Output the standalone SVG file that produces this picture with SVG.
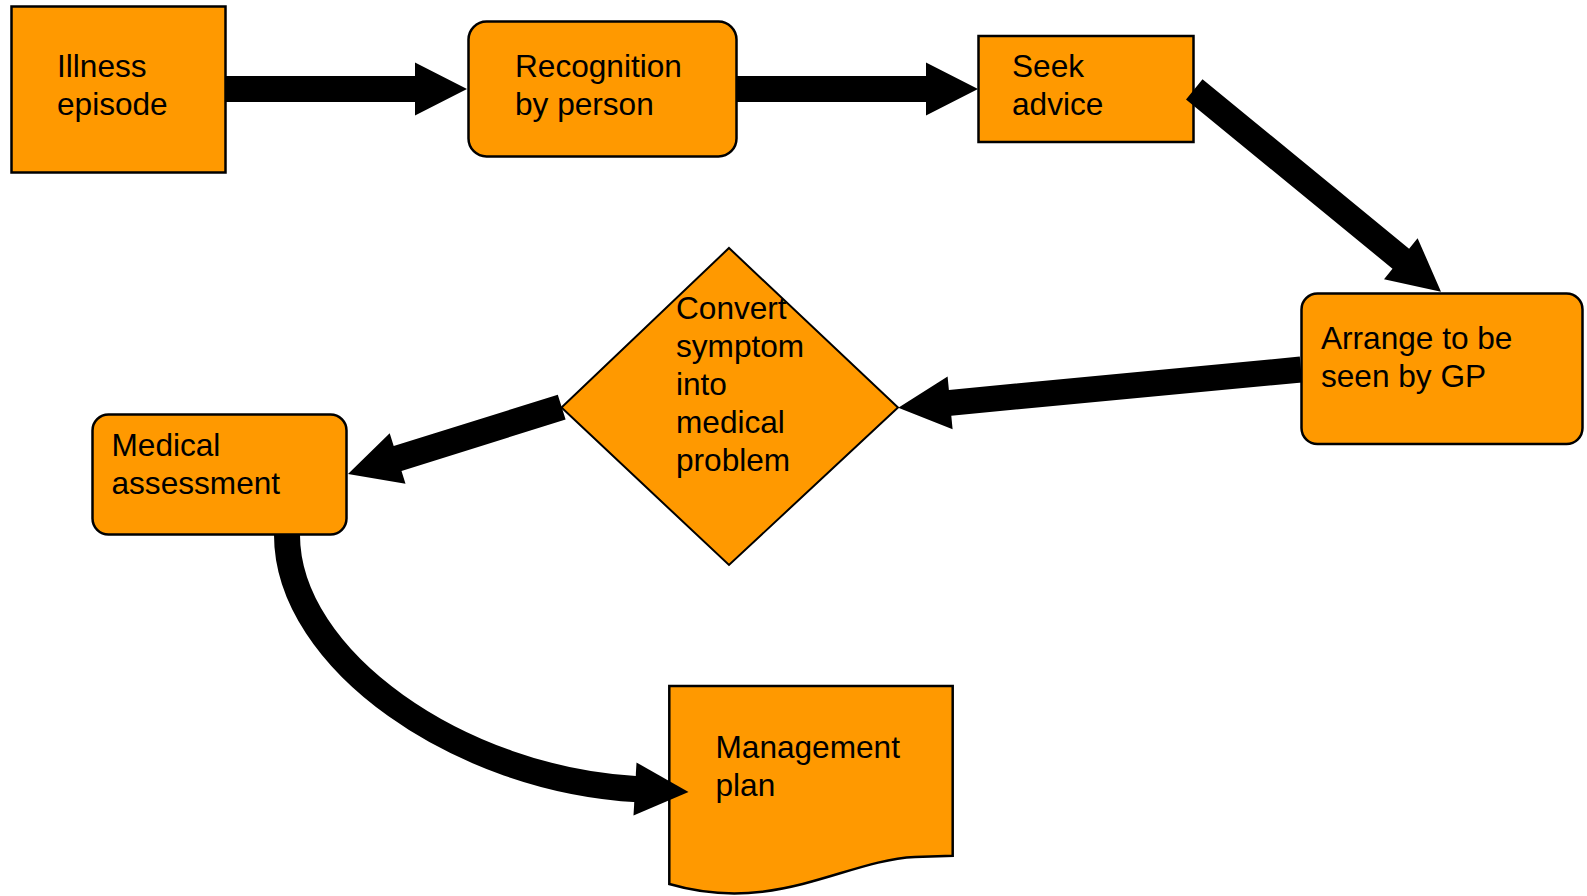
<svg xmlns="http://www.w3.org/2000/svg" width="1587" height="896" viewBox="0 0 1587 896">
<style>
.box{fill:#FF9900;stroke:#000;stroke-width:2.5}
.dia{fill:#FF9900;stroke:#000;stroke-width:2}
.lbl{font-family:"Liberation Sans",Arial,sans-serif;font-size:31.6px;fill:#000}
.arr{fill:#000;stroke:none}
.curve{fill:none;stroke:#000;stroke-width:26}
</style>
<rect width="1587" height="896" fill="#fff"/>
<g id="illness">
<rect class="box" x="11.5" y="6.5" width="214" height="166"/>
<text class="lbl" x="57" y="77.3">Illness</text>
<text class="lbl" x="57" y="115.3">episode</text>
</g>
<g id="recognition">
<rect class="box" x="468.5" y="21.5" width="268" height="135" rx="18"/>
<text class="lbl" x="515" y="77.3">Recognition</text>
<text class="lbl" x="515" y="115.3">by person</text>
</g>
<g id="seek">
<rect class="box" x="978.5" y="36" width="215" height="106"/>
<text class="lbl" x="1012" y="77.3">Seek</text>
<text class="lbl" x="1012" y="115.3">advice</text>
</g>
<g id="arrange">
<rect class="box" x="1301.5" y="293.5" width="281" height="150.5" rx="16"/>
<text class="lbl" x="1321" y="349.3">Arrange to be</text>
<text class="lbl" x="1321" y="387.3">seen by GP</text>
</g>
<g id="convert">
<polygon class="dia" points="729,248 898,407.5 729,565 561.5,407.5"/>
<text class="lbl" x="676" y="319.3">Convert</text>
<text class="lbl" x="676" y="357.3">symptom</text>
<text class="lbl" x="676" y="395.3">into</text>
<text class="lbl" x="676" y="433.3">medical</text>
<text class="lbl" x="676" y="471.3">problem</text>
</g>
<g id="medical">
<rect class="box" x="92.5" y="414.5" width="254" height="120" rx="16"/>
<text class="lbl" x="111.5" y="456">Medical</text>
<text class="lbl" x="111.5" y="494">assessment</text>
</g>
<g id="management">
<path class="box" d="M669.3,686 H952.7 V855.7 L915,857 C845,860 775,915 669.3,884 Z"/>
<text class="lbl" x="715.5" y="757.7">Management</text>
<text class="lbl" x="715.5" y="795.7">plan</text>
</g>
<g id="connectors">
<polygon class="arr" points="226,76 415,76 415,62.5 467,89 415,115.5 415,102 226,102"/>
<polygon class="arr" points="737,76 926,76 926,62.5 978,89 926,115.5 926,102 737,102"/>
<polygon class="arr" points="1186,99.4 1392.5,268.7 1384,279.2 1441,291.7 1417.6,238.2 1409.1,248.7 1202.5,79.2"/>
<polygon class="arr" points="1302.2,382.4 951.3,415.7 952.6,429.2 898.3,407.7 947.6,376.4 948.9,389.9 1299.8,356.6"/>
<polygon class="arr" points="565.6,419.6 401.5,470.9 405.5,483.8 348,474 389.7,433.2 393.7,446.1 557.8,394.8"/>
<path class="curve" d="M287,535 C287,660 460,780 638,789.2"/>
<polygon class="arr" points="636.5,762.6 688.5,792 633.5,815.4"/>
</g>
</svg>
